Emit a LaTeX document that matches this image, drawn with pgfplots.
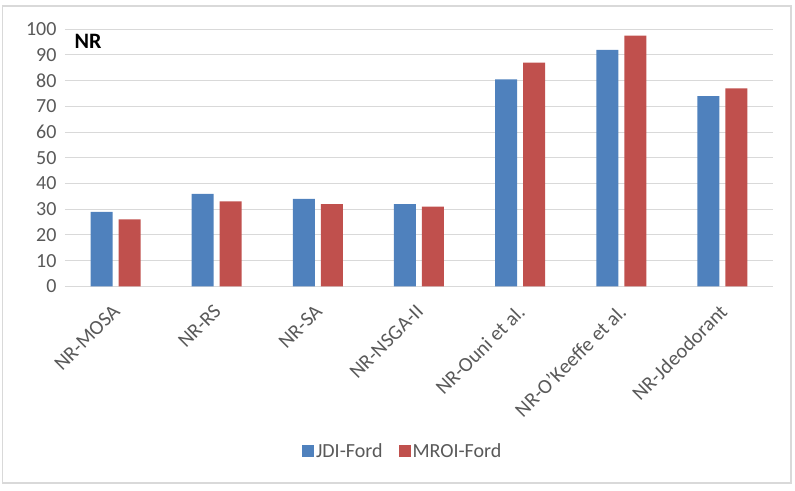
\documentclass[border=0pt]{standalone}
\usepackage{fontspec}
\setmainfont{Carlito}
\usepackage{pgfplots}
\pgfplotsset{compat=1.18}
\definecolor{xblue}{HTML}{4F81BD}
\definecolor{xred}{HTML}{C0504D}
\definecolor{tickgray}{HTML}{595959}
\definecolor{gridgray}{HTML}{D9D9D9}
\begin{document}
\begin{tikzpicture}[x=1pt,y=1pt]
\useasboundingbox (0,0) rectangle (795,490);
\draw[gridgray, line width=1.3pt] (2.5,7) rectangle (791,484);
\begin{axis}[
  at={(65pt,203.7pt)}, anchor=south west, scale only axis,
  width=708pt, height=257pt,
  ymin=0, ymax=100, ytick={0,10,...,100},
  xmin=-0.5, xmax=6.5, xtick={0,...,6},
  xticklabels={NR-MOSA,NR-RS,NR-SA,NR-NSGA-II,NR-Ouni et al.,NR-O’Keeffe et al.,NR-Jdeodorant},
  ybar=6pt, bar width=22pt,
  axis line style={draw=none}, tick style={draw=none},
  ymajorgrids, major grid style={gridgray, line width=1pt},
  /pgf/number format/assume math mode=true,
  yticklabel style={font=\fontsize{20}{23}\selectfont, text=tickgray, xshift=-5pt},
  xticklabel style={font=\fontsize{20.5}{23}\selectfont, text=tickgray, xshift=-4pt, yshift=-8pt, rotate=45, anchor=north east},
  legend style={at={(0.477,-0.641)}, anchor=center, draw=none, legend columns=2,
    font=\fontsize{20}{23}\selectfont, text=tickgray,
    /tikz/every even column/.append style={column sep=14pt}},
  legend image code/.code={\fill[#1] (0pt,-6pt) rectangle (12pt,6pt);},
]
\addplot[fill=xblue, draw=none] coordinates {(0,29) (1,36) (2,34) (3,32) (4,80.5) (5,92) (6,74)};
\addplot[fill=xred, draw=none] coordinates {(0,26) (1,33) (2,32) (3,31) (4,87) (5,97.5) (6,77)};
\legend{JDI-Ford, MROI-Ford}
\end{axis}
\node[anchor=base west, font=\bfseries\fontsize{22}{26}\selectfont] at (71,441) {NR};
\end{tikzpicture}
\end{document}
